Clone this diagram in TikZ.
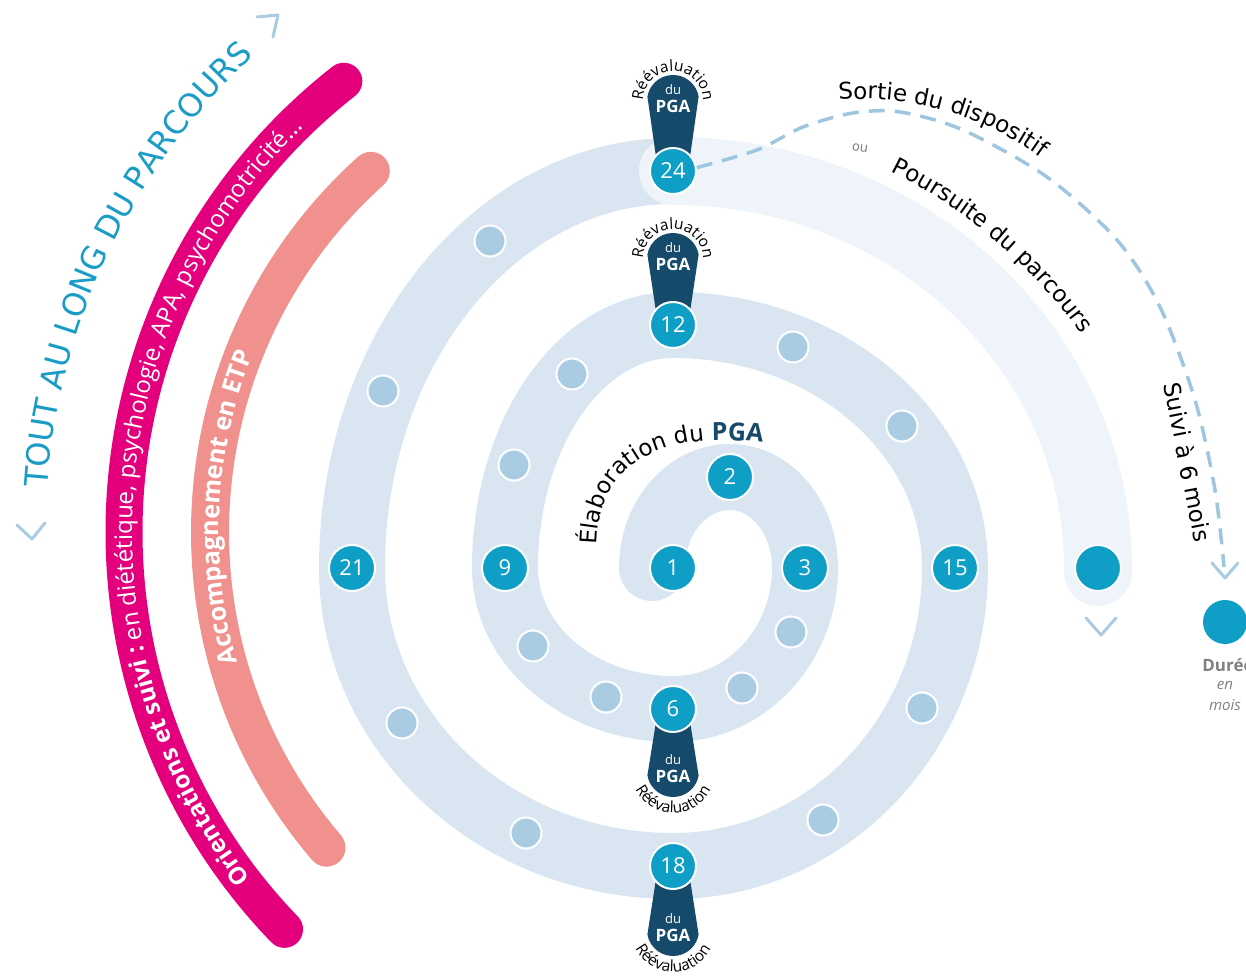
\documentclass[tikz,border=0pt]{standalone}
\usepackage{fontspec}
\setmainfont{Open Sans}
\newfontfamily\dejavu{DejaVu Sans}
\usetikzlibrary{positioning,calc,decorations.text}

\definecolor{bandblue}{HTML}{D9E6F2}
\definecolor{paleblue}{HTML}{EEF4FA}
\definecolor{monthblue}{HTML}{0F9FC6}
\definecolor{tickblue}{HTML}{A9CCE3}
\definecolor{pganavy}{HTML}{164A6A}
\definecolor{orimagenta}{HTML}{E4007C}
\definecolor{etpsalmon}{HTML}{F0918E}
\definecolor{dashblue}{HTML}{9EC6E1}
\definecolor{toutblue}{HTML}{1A9CC7}
\definecolor{greytext}{HTML}{808080}

\newcommand\setfs[1]{\fontsize{#1}{#1}\selectfont}
\newcommand\oribold{\setfs{24}\bfseries\color{white}}
\newcommand\orireg{\setfs{24}\mdseries\color{white}}
\newcommand\etpfont{\setfs{25}\bfseries\color{white}}
\newcommand\toutfont{\dejavu\setfs{32}\color{toutblue}}
\newcommand\labfont{\dejavu\setfs{23}\color{black}}
\newcommand\pgafont{\setfs{25}\bfseries\color{pganavy}}
\newcommand\reevalfont{\setfs{15.5}\color{black}}

\tikzset{
  month/.style={circle, fill=monthblue, draw=white, line width=2pt,
    minimum size=46pt, inner sep=0pt, text=white, font=\setfs{22}},
  tick/.style={circle, fill=tickblue, draw=white, line width=2pt,
    minimum size=31pt, inner sep=0pt},
  chevron/.style={draw=tickblue, line width=3pt, line cap=round, line join=round},
  sortieline/.style={draw=dashblue, line width=3.5pt, dash pattern=on 16pt off 10pt},
  legend/.style={inner sep=0pt, text=greytext},
}

\begin{document}
\begin{tikzpicture}[x=1pt, y=1pt]
  \useasboundingbox (0,0) rectangle (1246,975);
  \clip (0,0) rectangle (1246,975);

  % centres of the arcs
  \coordinate (arcC) at (696,443);
  \coordinate (sortC) at (863,578);
  \coordinate (pourC) at (657,337);

  % months on the spiral
  \foreach \n/\x/\y in {st/652/407, c1/673/407, c2/730/498, c3/805/407,
      c4/791/343, c5/742/287, c6/673/266, c7/606/278, c8/533/329,
      c9/505/407, c10/514/510, c11/572/601, c12/673/650, c13/793/628,
      c14/902/549, c15/955/407, c16/922/267, c17/823/155, c18/673/109,
      c19/526/142, c20/402/252, c21/352/407, c22/383/584, c23/490/734,
      c24/673/804, fin/1098/407}
    \coordinate (\n) at (\x,\y);

  % arcs on the left
  \draw[orimagenta, line width=37pt, line cap=round]
    ([shift={(224:572)}]arcC) arc[start angle=224, end angle=128, radius=572];
  \path[decorate, decoration={text along path, text align=center,
      text={|\oribold|Orientations et suivi : |\orireg|en diététique, psychologie, APA, psychomotricité…}}]
    ([shift={(222:564)}]arcC) arc[start angle=222, end angle=130, radius=564];

  \draw[etpsalmon, line width=38pt, line cap=round]
    ([shift={(220.5:486)}]arcC) arc[start angle=220.5, end angle=132, radius=486];
  \path[decorate, decoration={text along path, text align=center,
      text={|\etpfont|Accompagnement en ETP}}]
    ([shift={(198:477)}]arcC) arc[start angle=198, end angle=156, radius=477];

  \path[decorate, decoration={text along path, text align=center,
      text={|\toutfont|TOUT AU LONG DU PARCOURS}}]
    ([shift={(177:650)}]arcC) arc[start angle=177, end angle=132, radius=650];

  \coordinate (toutStart) at (32,436);
  \draw[chevron] ($(toutStart)+(-15,14)$) -- (toutStart) -- ($(toutStart)+(13,16)$);
  \coordinate (toutEnd) at (278,960);
  \draw[chevron] ($(toutEnd)+(-21,-2)$) -- (toutEnd) -- ($(toutEnd)+(-5,-22)$);

  % spiral
  \draw[bandblue, line width=66pt, line cap=round]
    (st) arc[start angle=180, end angle=90, x radius=78, y radius=91]
    arc[start angle=90, end angle=0, x radius=75, y radius=91]
    arc[start angle=0, end angle=-90, x radius=132, y radius=141]
    arc[start angle=270, end angle=180, x radius=168, y radius=141]
    arc[start angle=180, end angle=90, x radius=168, y radius=243]
    arc[start angle=90, end angle=0, x radius=282, y radius=243]
    arc[start angle=0, end angle=-90, x radius=282, y radius=298]
    arc[start angle=270, end angle=180, x radius=321, y radius=298]
    arc[start angle=180, end angle=90, x radius=321, y radius=397];
  \draw[paleblue, line width=68pt, line cap=round]
    (c24) arc[start angle=90, end angle=0, x radius=425, y radius=397] -- ++(0,-4);

  \path[decorate, decoration={text along path, text align=left,
      text={|\labfont|Élaboration du |\pgafont|PGA}}]
    (597,430) .. controls (598,512) and (662,552) .. (790,528);

  % re-evaluations
  \foreach \m/\off in {24/70, 12/66, 6/-62, 18/-64}{
    \pgfmathsetmacro\sg{sign(\off)}
    \pgfmathsetmacro\rtxt{\sg>0 ? 30 : 42}
    \pgfmathsetmacro\etxt{\sg>0 ? -20 : 340}
    \coordinate (b\m) at ($(c\m)+(0,\off)$);
    \fill[pganavy] ($(c\m)+(-15,0)$) -- ([shift={({180-10*\sg}:26)}]b\m)
      arc[start angle={180-10*\sg}, end angle={180-170*\sg}, radius=26]
      -- ($(c\m)+(15,0)$) -- cycle;
    \node[text=white, font=\setfs{13}] (du\m) at ($(b\m)+(0,11)$) {du};
    \node[text=white, font=\setfs{17}\bfseries] (pga\m) at ($(b\m)+(0,-5)$) {PGA};
    \path[decorate, decoration={text along path, text align=center,
        text={|\reevalfont|Réévaluation}}]
      ([shift={(200:\rtxt)}]b\m) arc[start angle=200, end angle=\etxt, radius=\rtxt];
  }

  % months
  \node[month] (m1) at (c1) {1};
  \foreach \m in {2,3,6,9,12,15,18,21,24}
    \node[month] (m\m) at (c\m) {\m};
  \foreach \m in {4,5,7,8,10,11,13,14,16,17,19,20,22,23}
    \node[tick] (m\m) at (c\m) {};
  \node[month] (mfin) at (fin) {};

  \coordinate (finTip) at (1101,340);
  \draw[chevron] ($(finTip)+(-15,17)$) -- (finTip) -- ($(finTip)+(15,17)$);

  % exit or continuation
  \coordinate (sortie) at (1224,408);
  \draw[sortieline] plot[smooth] coordinates {(m24.8) (757,825) (803,848)
    (853,862) (900,863) (963,845) (1047,798) (1117,735) (1160,668)
    (1195,575) (1215,485) (sortie)};
  \coordinate (sortieTip) at (1225,397);
  \draw[chevron] ($(sortieTip)+(-13,15)$) -- (sortieTip) -- ($(sortieTip)+(13,15)$);

  \path[decorate, decoration={text along path, text align=center,
      text={|\labfont|Sortie du dispositif}}]
    ([shift={(98:298)}]sortC) arc[start angle=98, end angle=50, radius=298];
  \path[decorate, decoration={text along path, text align=center,
      text={|\labfont|Poursuite du parcours}}]
    ([shift={(66:522)}]pourC) arc[start angle=66, end angle=33, radius=522];
  \node[legend, font=\dejavu\setfs{13}, rotate=-8] (ou) at (860,827) {ou};
  \node[inner sep=0pt, font=\dejavu\setfs{23}, rotate=-79] (suivi) at (1188,513) {Suivi à 6 mois};

  % legend
  \node[circle, fill=monthblue, minimum size=44pt, inner sep=0pt] (legdot) at (1225,353) {};
  \node[legend, font=\setfs{17}\bfseries] (legdur) at (1228,310) {Durée};
  \node[legend, font=\setfs{15}\itshape] (legen) at (1225,290) {en};
  \node[legend, font=\setfs{15}\itshape] (legmois) at (1225,270) {mois};
\end{tikzpicture}
\end{document}
